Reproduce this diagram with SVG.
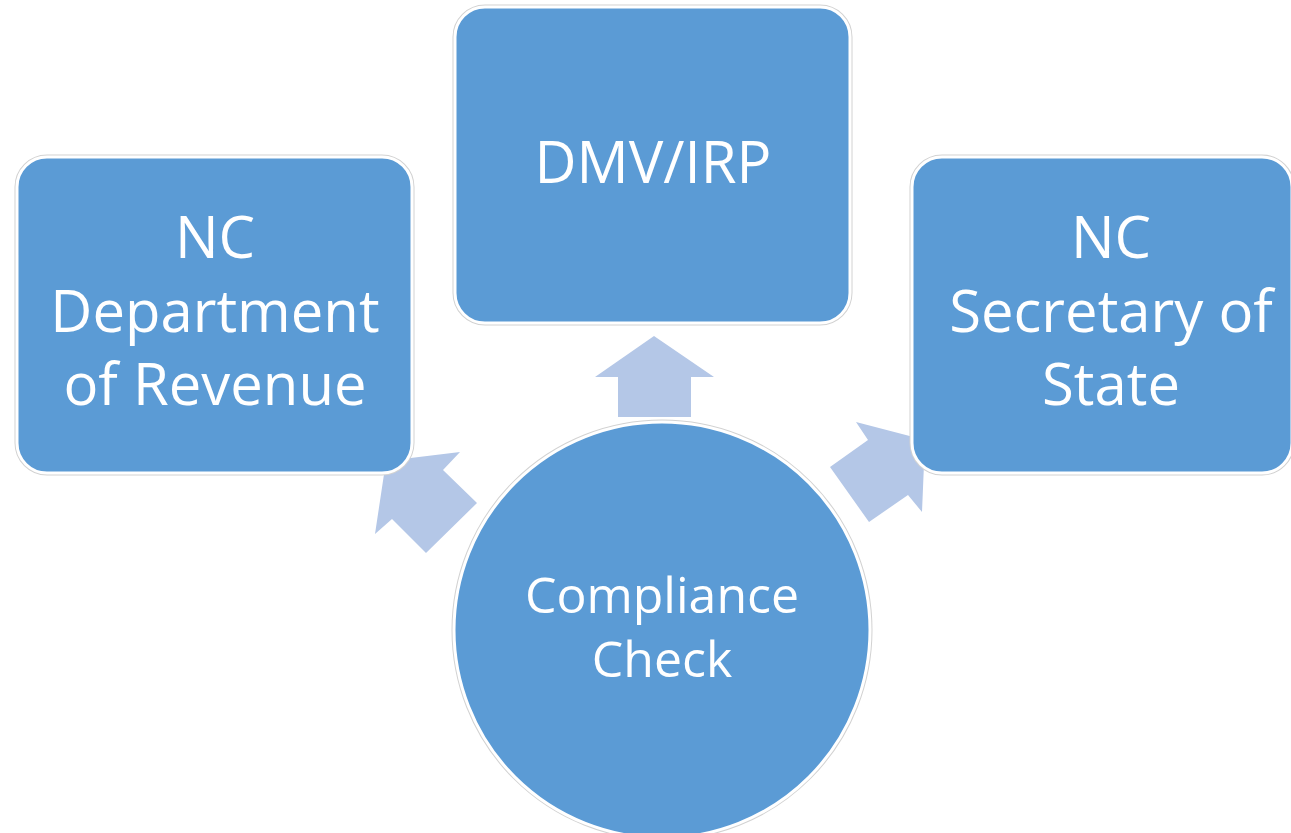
<svg xmlns="http://www.w3.org/2000/svg" width="1291" height="833" viewBox="0 0 1291 833">
<style>
.halo{fill:none;stroke:#d2d2d2;stroke-width:5}
.shape{fill:#5B9BD5;stroke:#ffffff;stroke-width:3}
.arrow{fill:#B4C7E7;stroke:none}
.lbl{font-family:"Open Sans","Liberation Sans",sans-serif;font-size:58px;fill:#ffffff;text-anchor:middle}
.lbl2{font-family:"Open Sans","Liberation Sans",sans-serif;font-size:50px;fill:#ffffff;text-anchor:middle}
</style>
<rect width="1291" height="833" fill="#ffffff"/>
<g id="connectors">
<polygon class="arrow" points="654,336 714,377 691,377 691,417 618,417 618,377 595,377"/>
<polygon class="arrow" points="386,461 460,452 443,470 477,503 426,553 392,519 375,534"/>
<polygon class="arrow" points="925,440 922,512 908,495 869,522 830,467 868,440 856,422"/>
</g>
<g id="node-revenue">
<rect class="halo" x="17" y="157" width="395" height="316" rx="30"/>
<rect class="shape" x="17" y="157" width="395" height="316" rx="30"/>
<text class="lbl" x="215" y="258">NC</text>
<text class="lbl" x="215" y="332">Department</text>
<text class="lbl" x="215" y="405">of Revenue</text>
</g>
<g id="node-dmv">
<rect class="halo" x="455" y="7" width="395" height="316" rx="30"/>
<rect class="shape" x="455" y="7" width="395" height="316" rx="30"/>
<text class="lbl" x="653" y="183">DMV/IRP</text>
</g>
<g id="node-sos">
<rect class="halo" x="912" y="157" width="380" height="316" rx="30"/>
<rect class="shape" x="912" y="157" width="380" height="316" rx="30"/>
<text class="lbl" x="1111" y="258">NC</text>
<text class="lbl" x="1111" y="332">Secretary of</text>
<text class="lbl" x="1111" y="405">State</text>
</g>
<g id="node-compliance">
<circle class="halo" cx="662" cy="630" r="208"/>
<circle class="shape" cx="662" cy="630" r="208"/>
<text class="lbl2" x="662" y="613">Compliance</text>
<text class="lbl2" x="662" y="677">Check</text>
</g>
</svg>
